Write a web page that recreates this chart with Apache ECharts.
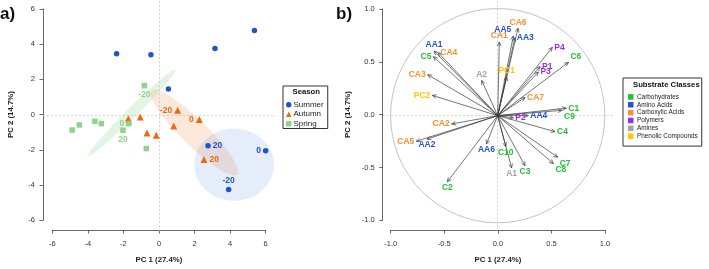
<!DOCTYPE html>
<html>
<head>
<meta charset="utf-8">
<script src="https://cdn.jsdelivr.net/npm/echarts@6/dist/echarts.min.js"></script>
<style>
  html, body { margin: 0; padding: 0; background: #fff; }
  #chart { width: 709px; height: 269px; }
</style>
</head>
<body>
<div id="chart"></div>
<script>
  /** Panel a: PCA scores, one array per season */
  var summerX = [-2.40, -0.47, 3.13, 5.35, 0.51, 2.74, 5.98, 3.90];
  var summerY = [3.48, 3.43, 3.78, 4.79, 1.50, -1.69, -1.97, -4.16];
  var summerLab = ['', '', '', '', '', '20', '0', '-20'];

  var autumnX = [1.03, -1.74, -1.07, 0.81, 2.25, -0.69, -0.17, 2.51];
  var autumnY = [0.30, -0.17, -0.07, -0.58, -0.22, -0.97, -1.10, -2.47];
  var autumnLab = ['-20', '', '', '', '0', '', '', '20'];

  var springX = [-0.84, -4.90, -4.50, -3.62, -3.26, -1.71, -2.04, -0.73];
  var springY = [1.69, -0.81, -0.52, -0.32, -0.45, -0.45, -0.82, -1.85];
  var springLab = ['-20', '', '', '', '', '0', '20', ''];

  // confidence ellipses: green, orange, blue
  var ellCx = [-1.54, 1.97, 4.21];
  var ellCy = [0.17, -0.95, -2.76];
  var ellA = [3.46, 3.36, 2.24];
  var ellB = [0.28, 0.72, 2.03];
  var ellAngle = [44.7, -44.4, 0];

  /** Panel b: loadings */
  var carbNames = ['C1', 'C2', 'C3', 'C4', 'C5', 'C6', 'C7', 'C8', 'C9', 'C10'];
  var carbX = [0.64, -0.47, 0.255, 0.535, -0.60, 0.66, 0.56, 0.52, 0.60, 0.075];
  var carbY = [0.07, -0.62, -0.47, -0.15, 0.553, 0.50, -0.39, -0.45, 0.05, -0.29];

  var aminoNames = ['AA1', 'AA2', 'AA3', 'AA4', 'AA5', 'AA6'];
  var aminoX = [-0.594, -0.66, 0.16, 0.285, 0.146, -0.105];
  var aminoY = [0.606, -0.22, 0.73, 0.0, 0.747, -0.265];

  var carbxNames = ['CA1', 'CA2', 'CA3', 'CA4', 'CA5', 'CA6', 'CA7'];
  var carbxX = [0.015, -0.43, -0.653, -0.554, -0.76, 0.19, 0.255];
  var carbxY = [0.69, -0.078, 0.384, 0.59, -0.24, 0.82, 0.17];

  var polyNames = ['P1', 'P2', 'P3', 'P4'];
  var polyX = [0.395, 0.146, 0.38, 0.51];
  var polyY = [0.46, -0.02, 0.41, 0.64];

  var amineNames = ['A1', 'A2'];
  var amineX = [0.13, -0.15];
  var amineY = [-0.49, 0.33];

  var phenNames = ['PC1', 'PC2'];
  var phenX = [0.084, -0.61];
  var phenY = [0.365, 0.19];

  var xTicksA = [-6, 6, 2];
  var yTicksA = [-6, 6, 2];
  var ticksB = [-1, 1, 0.5];

  /** Style */
  var FONT = 'Liberation Sans, Arial, Helvetica, sans-serif';
  var seasonColors = { Summer: '#2353c8', Autumn: '#eb6a12', Spring: '#8ed38a' };
  var ellFill = ['rgba(142,211,138,0.24)', 'rgba(240,140,70,0.2)', 'rgba(110,150,225,0.18)'];
  var classColors = {
    'Carbohydrates': '#22c034',
    'Amino Acids': '#2652d8',
    'Carboxylic Acids': '#ff8d2b',
    'Polymers': '#9a2ef0',
    'Amines': '#a3a3a3',
    'Phenolic Compounds': '#ffc800'
  };
  var labelSide = {
    Summer: ['', '', '', '', '', 'right', 'left', 'top'],
    Autumn: ['left', '', '', '', 'left', '', '', 'right'],
    Spring: ['bottom', '', '', '', '', 'left', 'bottom', ''],
    'C1': 'e', 'C2': 's', 'C3': 's', 'C4': 'e', 'C5': 'w', 'C6': 'ne', 'C7': 'se', 'C8': 'se', 'C9': 'se', 'C10': 's',
    'AA1': 'n', 'AA2': 's', 'AA3': 'e', 'AA4': 'e', 'AA5': 'nw', 'AA6': 's',
    'CA1': 'n', 'CA2': 'w', 'CA3': 'w', 'CA4': 'e', 'CA5': 'w', 'CA6': 'n', 'CA7': 'e',
    'P1': 'e', 'P2': 'e', 'P3': 'e', 'P4': 'e',
    'A1': 's', 'A2': 'n', 'PC1': 'n', 'PC2': 'w'
  };

  var axisStyle = { color: '#444', width: 0.8 };

  function points(xs, ys, labs, sides) {
    return xs.map(function(x, i) {
      return {
        value: [x, ys[i]],
        label: { show: !!labs[i], formatter: labs[i], position: sides[i] || 'right' }
      };
    });
  }

  function scatter(name, symbol, size, xs, ys, labs) {
    return {
      name: name,
      type: 'scatter',
      xAxisIndex: 1,
      yAxisIndex: 1,
      symbol: symbol,
      symbolSize: size,
      itemStyle: { color: seasonColors[name], opacity: 1 },
      label: { distance: 2, color: seasonColors[name], fontSize: 8.5, fontWeight: 'bold', fontFamily: FONT },
      data: points(xs, ys, labs, labelSide[name]),
      z: 5
    };
  }

  function ellipseSeries() {
    return {
      type: 'custom',
      xAxisIndex: 1,
      yAxisIndex: 1,
      silent: true,
      z: 1,
      data: ellCx.map(function(cx, i) { return [cx, ellCy[i], ellA[i], ellB[i], ellAngle[i]]; }),
      renderItem: function(params, api) {
        var cx = api.value(0), cy = api.value(1), a = api.value(2), b = api.value(3);
        var th = api.value(4) * Math.PI / 180;
        var pts = [];
        for (var k = 0; k < 72; k++) {
          var t = k / 72 * Math.PI * 2;
          pts.push(api.coord([
            cx + a * Math.cos(t) * Math.cos(th) - b * Math.sin(t) * Math.sin(th),
            cy + a * Math.cos(t) * Math.sin(th) + b * Math.sin(t) * Math.cos(th)
          ]));
        }
        return { type: 'polygon', shape: { points: pts }, style: { fill: ellFill[params.dataIndex] } };
      }
    };
  }

  function arrowSeries(name, names, xs, ys) {
    var color = classColors[name];
    return {
      name: name,
      type: 'custom',
      xAxisIndex: 3,
      yAxisIndex: 3,
      silent: true,
      z: 5,
      itemStyle: { color: color },
      data: xs.map(function(x, i) { return [x, ys[i]]; }),
      renderItem: function(params, api) {
        var o = api.coord([0, 0]);
        var p = api.coord([api.value(0), api.value(1)]);
        var dx = p[0] - o[0], dy = p[1] - o[1];
        var len = Math.sqrt(dx * dx + dy * dy) || 1;
        var ux = dx / len, uy = dy / len;
        var L = 4.5, ang = 25 * Math.PI / 180;
        function head(s) {
          var c = Math.cos(s * ang), sn = Math.sin(s * ang);
          var rx = ux * c - uy * sn, ry = ux * sn + uy * c;
          return [p[0] - L * rx, p[1] - L * ry];
        }
        var line = { stroke: '#3a3a3a', lineWidth: 0.7 };
        var lab = names[params.dataIndex];
        var side = labelSide[lab];
        var tx = p[0], ty = p[1], al = 'center', va = 'middle';
        if (side.indexOf('n') >= 0) { ty -= 1.5; va = 'bottom'; }
        if (side.indexOf('s') >= 0) { ty += 1.5; va = 'top'; }
        if (side.indexOf('e') >= 0) { tx += 2; al = 'left'; }
        if (side.indexOf('w') >= 0) { tx -= 2; al = 'right'; }
        return {
          type: 'group',
          children: [
            { type: 'line', shape: { x1: o[0], y1: o[1], x2: p[0], y2: p[1] }, style: line },
            { type: 'polyline', shape: { points: [head(1), p, head(-1)] }, style: { stroke: '#3a3a3a', lineWidth: 0.7, fill: null } },
            {
              type: 'text', x: tx, y: ty, z2: 10,
              style: { text: lab, fill: color, fontSize: 8.5, fontWeight: 'bold', fontFamily: FONT, align: al, verticalAlign: va }
            }
          ]
        };
      }
    };
  }

  function zeroLines(xi, yi) {
    return {
      type: 'scatter',
      xAxisIndex: xi,
      yAxisIndex: yi,
      silent: true,
      data: [],
      z: 2,
      markLine: {
        silent: true,
        symbol: 'none',
        label: { show: false },
        lineStyle: { color: '#c4c4c4', type: [2, 2], width: 0.8 },
        data: [{ xAxis: 0 }, { yAxis: 0 }]
      }
    };
  }

  function visAxis(idx, range, offset, gap, name, fmt, margin) {
    return {
      gridIndex: idx,
      type: 'value',
      min: range[0], max: range[1], interval: range[2],
      offset: offset,
      axisLine: { show: true, onZero: false, lineStyle: axisStyle },
      axisTick: { show: true, length: 3.5, lineStyle: axisStyle },
      axisLabel: { fontSize: 7.5, color: '#333', margin: margin, fontFamily: FONT, formatter: fmt },
      splitLine: { show: false },
      name: name,
      nameLocation: 'middle',
      nameGap: gap,
      nameTextStyle: { fontSize: 7.8, fontWeight: 'bold', color: '#222', fontFamily: FONT }
    };
  }

  function hiddenAxis(idx, mn, mx) {
    return { gridIndex: idx, type: 'value', min: mn, max: mx, show: false, splitLine: { show: false } };
  }

  var fmtA = function(v) { return String(v); };
  var fmtB = function(v) { return v.toFixed(1); };

  var option = {
    animation: false,
    textStyle: { fontFamily: FONT },
    title: [
      { text: 'a)', left: 0, top: 6, padding: 0, textStyle: { fontSize: 17, fontWeight: 'bold', color: '#111', fontFamily: FONT } },
      { text: 'b)', left: 336, top: 6, padding: 0, textStyle: { fontSize: 17, fontWeight: 'bold', color: '#111', fontFamily: FONT } },
      { text: 'Season', left: 292.5, top: 88, padding: 0, textStyle: { fontSize: 7.7, fontWeight: 'bold', color: '#111', fontFamily: FONT } },
      { text: 'Substrate Classes', left: 633, top: 80.5, padding: 0, textStyle: { fontSize: 7.7, fontWeight: 'bold', color: '#111', fontFamily: FONT } }
    ],
    legend: [
      {
        orient: 'vertical', left: 283, top: 86,
        padding: [14, 4, 0, 3],
        borderColor: '#333', borderWidth: 1,
        itemWidth: 5.5, itemHeight: 5.5, itemGap: 0,
        textStyle: { fontSize: 8, lineHeight: 9.5, color: '#222', padding: [0, 0, 0, -3], fontFamily: FONT },
        data: ['Summer', 'Autumn', 'Spring']
      },
      {
        orient: 'vertical', left: 623, top: 78,
        padding: [15, 4, 6, 5],
        borderColor: '#333', borderWidth: 1,
        icon: 'rect',
        itemWidth: 5.5, itemHeight: 5.5, itemGap: 0,
        textStyle: { fontSize: 6.4, lineHeight: 7.85, color: '#222', padding: [0, 0, 0, -1.5], fontFamily: FONT },
        data: ['Carbohydrates', 'Amino Acids', 'Carboxylic Acids', 'Polymers', 'Amines', 'Phenolic Compounds']
      }
    ],
    grid: [
      { left: 52.3, top: 9, width: 213.4, height: 213.3 },
      { left: 43.0, top: 0.15, width: 232.6, height: 231.0 },
      { left: 390.7, top: 9, width: 214.3, height: 213.3 },
      { left: 382.7, top: 0.45, width: 230.0, height: 230.4 }
    ],
    xAxis: [
      visAxis(0, xTicksA, 9.7, 26, 'PC 1 (27.4%)', fmtA, 10),
      hiddenAxis(1, -6.54, 6.54),
      visAxis(2, ticksB, 9.7, 26, 'PC 1 (27.4%)', fmtB, 10),
      hiddenAxis(3, -1.0733, 1.0733)
    ],
    yAxis: [
      visAxis(0, yTicksA, 9.3, 28.5, 'PC 2 (14.7%)', fmtA, 8),
      hiddenAxis(1, -6.5, 6.5),
      visAxis(2, ticksB, 8, 31, 'PC 2 (14.7%)', fmtB, 8),
      hiddenAxis(3, -1.08, 1.08)
    ],
    series: [
      ellipseSeries(),
      zeroLines(1, 1),
      scatter('Summer', 'circle', 5.5, summerX, summerY, summerLab),
      scatter('Autumn', 'triangle', 7, autumnX, autumnY, autumnLab),
      scatter('Spring', 'rect', 5.5, springX, springY, springLab),
      zeroLines(3, 3),
      {
        type: 'custom',
        xAxisIndex: 3,
        yAxisIndex: 3,
        silent: true,
        z: 1,
        data: [[0, 0, 1]],
        renderItem: function(params, api) {
          var c = api.coord([api.value(0), api.value(1)]);
          var r = api.size([api.value(2), 0])[0];
          return { type: 'circle', shape: { cx: c[0], cy: c[1], r: r }, style: { fill: null, stroke: '#b5b5b5', lineWidth: 0.8 } };
        }
      },
      arrowSeries('Carbohydrates', carbNames, carbX, carbY),
      arrowSeries('Amino Acids', aminoNames, aminoX, aminoY),
      arrowSeries('Carboxylic Acids', carbxNames, carbxX, carbxY),
      arrowSeries('Polymers', polyNames, polyX, polyY),
      arrowSeries('Amines', amineNames, amineX, amineY),
      arrowSeries('Phenolic Compounds', phenNames, phenX, phenY)
    ]
  };

  echarts.init(document.getElementById('chart')).setOption(option);
</script>
</body>
</html>
